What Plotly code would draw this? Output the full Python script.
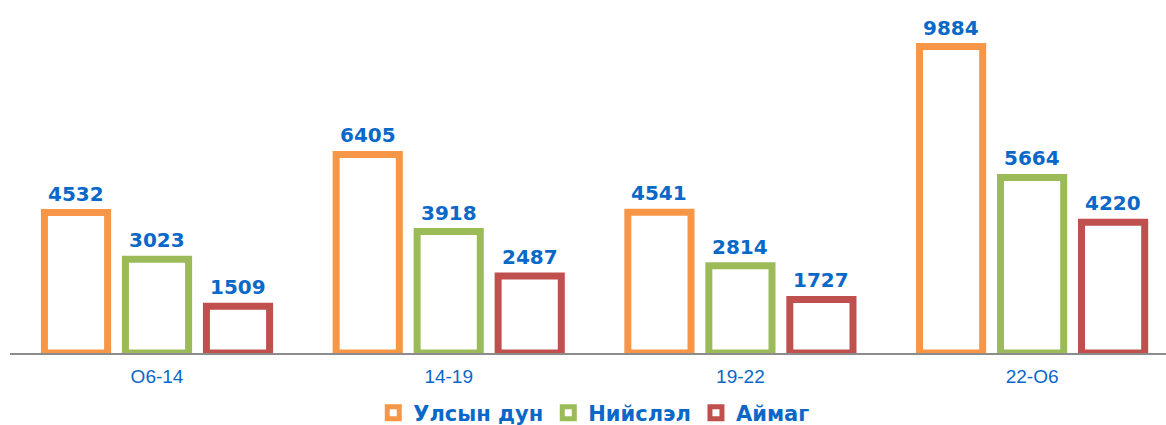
import plotly.graph_objects as go

categories = ["O6-14", "14-19", "19-22", "22-O6"]
ulsyn = [4532, 6405, 4541, 9884]
niislel = [3023, 3918, 2814, 5664]
aimag = [1509, 2487, 1727, 4220]

series = [
    ("Улсын дун", ulsyn, "#F79646"),
    ("Нийслэл", niislel, "#9BBB59"),
    ("Аймаг", aimag, "#C0504D"),
]

label_blue = "#0A68C8"
bargap = 0.167
slot = (1 - bargap) / len(series)

fig = go.Figure()
annotations = []
for si, (name, vals, col) in enumerate(series):
    fig.add_trace(go.Bar(
        name=name, x=categories, y=vals,
        marker=dict(color="white", line=dict(color=col, width=7)),
        hoverinfo="skip",
    ))
    offset = (si - (len(series) - 1) / 2) * slot
    for ci, v in enumerate(vals):
        annotations.append(dict(
            x=ci + offset, y=v, xref="x", yref="y", text=str(v),
            showarrow=False, yanchor="bottom", xanchor="center", yshift=5,
            font=dict(family="DejaVu Sans", size=20, color=label_blue, weight="bold"),
        ))

fig.update_layout(
    width=1166, height=425,
    margin=dict(l=10, r=0, t=10, b=72, autoexpand=False),
    paper_bgcolor="white", plot_bgcolor="white",
    barmode="group", bargap=bargap, bargroupgap=0.22,
    showlegend=True,
    annotations=annotations,
    legend=dict(orientation="h", x=0.505, xanchor="center", y=-0.175, yanchor="middle",
                font=dict(family="DejaVu Sans", size=21, color=label_blue, weight="bold"),
                itemwidth=30, traceorder="normal"),
    xaxis=dict(range=[-0.504, 3.459], showgrid=False, zeroline=False,
               showline=True, linecolor="#8c8c8c", linewidth=1.5,
               tickfont=dict(family="Liberation Sans, Arial", size=19, color=label_blue),
               ticks="", ticklabelstandoff=5),
    yaxis=dict(range=[0, 11065], visible=False, showgrid=False, zeroline=False),
)

fig.write_html("out.html", config={"displayModeBar": False},
               post_script="document.body.style.margin='0';document.body.style.padding='0';")
